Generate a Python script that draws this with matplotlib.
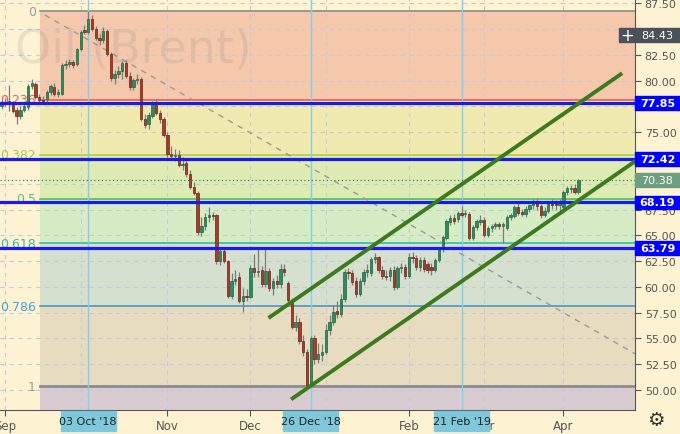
import numpy as np
import pandas as pd
import matplotlib
matplotlib.use('Agg')
from matplotlib import pyplot as plt
from matplotlib.patches import Rectangle
import matplotlib.transforms as mtransforms

# trading days of the chart (ICE Brent, closed on Christmas and New Year)
days = pd.bdate_range('2018-08-31', '2019-04-05')
days = days.drop(pd.to_datetime(['2018-12-25', '2019-01-01']))

opens = [77.5, 77.9, 77.7, 77.7, 77.2, 76.6, 77.2, 77.4, 79.5, 79.7,
         78.4, 78.1, 78.2, 78.9, 79.4, 78.7, 78.7, 81.5, 81.6, 81.8,
         81.6, 83.1, 84.95, 84.7, 86.0, 85.0, 84.1, 83.9, 84.85, 82.6,
         80.3, 80.6, 80.9, 81.7, 80.5, 79.4, 80.1, 80.2, 76.3, 75.8,
         76.6, 77.7, 76.9, 76.3, 74.7, 72.9, 72.7, 72.8, 71.8, 72.0,
         70.9, 69.7, 69.1, 65.3, 65.9, 66.8, 66.95, 67.0, 62.5, 63.5,
         62.5, 59.1, 60.6, 61.0, 58.6, 59.1, 59.0, 61.8, 61.4, 61.6,
         60.3, 61.5, 59.9, 60.6, 60.3, 61.75, 60.4, 58.7, 56.1, 56.6,
         54.8, 53.7, 50.45, 55.0, 53.0, 53.4, 53.7, 55.8, 56.6, 57.7,
         57.4, 58.85, 61.4, 61.3, 60.6, 59.3, 60.6, 61.4, 61.3, 62.7,
         62.9, 61.6, 61.1, 61.1, 61.6, 60.0, 61.8, 61.9, 61.1, 62.9,
         62.8, 61.9, 62.6, 62.2, 61.9, 61.6, 62.6, 63.7, 64.7, 66.3,
         66.7, 66.6, 67.2, 67.1, 67.1, 64.7, 65.8, 66.3, 66.5, 65.0,
         65.7, 65.9, 66.1, 65.9, 65.7, 66.8, 66.9, 67.7, 67.3, 67.1,
         67.6, 67.9, 68.2, 67.8, 67.0, 67.4, 68.05, 68.0, 67.9, 67.7,
         69.2, 69.5, 69.6, 69.2]
highs = [78.1, 78.3, 79.6, 78.0, 77.4, 77.5, 77.8, 79.7, 80.2, 79.9,
         78.7, 78.5, 79.1, 79.7, 79.8, 79.2, 81.7, 82.0, 82.1, 82.0,
         83.2, 84.9, 85.4, 86.72, 86.4, 85.3, 84.5, 85.2, 85.0, 82.8,
         81.0, 81.4, 81.9, 82.0, 80.8, 80.3, 80.6, 80.4, 76.8, 77.0,
         78.0, 78.2, 77.2, 76.5, 75.0, 73.7, 73.4, 73.3, 72.6, 72.5,
         71.3, 70.2, 69.3, 66.8, 67.2, 67.7, 67.3, 67.1, 63.9, 63.7,
         62.6, 61.3, 61.6, 61.4, 59.9, 59.8, 62.1, 63.2, 63.7, 62.0,
         63.7, 61.8, 60.9, 61.2, 62.2, 62.2, 60.6, 58.9, 57.3, 57.0,
         55.3, 54.0, 55.2, 55.3, 54.6, 54.5, 56.4, 57.3, 58.2, 58.6,
         59.3, 61.7, 61.8, 61.6, 61.0, 60.9, 61.7, 62.2, 62.9, 63.3,
         63.0, 62.0, 61.6, 61.9, 62.0, 62.0, 62.3, 62.2, 63.3, 63.4,
         63.1, 62.9, 62.9, 62.4, 62.3, 62.8, 63.9, 65.0, 66.6, 67.0,
         67.1, 67.4, 67.8, 67.5, 67.3, 66.0, 66.6, 67.0, 66.8, 65.9,
         66.1, 66.3, 66.3, 66.3, 67.0, 67.2, 67.9, 68.1, 67.6, 67.8,
         68.0, 68.5, 68.6, 68.0, 67.7, 68.3, 68.5, 68.4, 68.5, 69.4,
         69.8, 69.9, 70.0, 70.5]
lows = [77.3, 77.5, 77.1, 76.9, 75.8, 76.3, 77.0, 77.2, 79.2, 78.2,
        77.9, 77.8, 77.9, 78.6, 78.5, 78.4, 78.6, 81.1, 81.3, 81.2,
        81.4, 82.9, 84.5, 84.5, 84.8, 83.9, 83.5, 83.7, 82.4, 80.0,
        79.7, 80.3, 80.2, 80.3, 79.1, 79.1, 79.7, 76.1, 75.4, 75.3,
        76.4, 76.7, 75.9, 74.5, 72.6, 72.3, 72.2, 71.6, 71.3, 70.7,
        69.5, 68.9, 65.0, 64.9, 65.5, 66.3, 66.5, 62.2, 62.1, 62.3,
        58.9, 58.8, 60.2, 58.4, 57.6, 58.6, 58.9, 61.0, 61.0, 60.0,
        60.0, 59.6, 59.2, 59.9, 59.9, 61.1, 58.5, 55.9, 55.7, 54.5,
        53.3, 50.35, 50.35, 52.5, 52.6, 52.8, 53.5, 55.3, 56.3, 57.0,
        57.1, 58.5, 60.8, 60.2, 59.0, 59.1, 60.2, 61.0, 61.1, 62.3,
        61.3, 60.8, 60.7, 60.6, 59.7, 59.8, 61.3, 60.8, 60.9, 62.3,
        61.6, 61.5, 61.4, 61.3, 61.2, 61.4, 62.4, 63.4, 64.5, 66.0,
        66.1, 66.3, 66.8, 66.8, 64.5, 64.5, 65.5, 66.0, 64.8, 64.8,
        65.3, 65.6, 65.6, 64.3, 65.5, 66.5, 66.7, 67.0, 66.9, 66.8,
        67.3, 67.6, 67.5, 66.7, 66.8, 67.2, 67.6, 67.5, 67.4, 67.5,
        68.9, 69.1, 69.0, 69.0]
closes = [77.9, 77.7, 78.0, 77.1, 76.6, 77.2, 77.5, 79.5, 79.8, 78.4,
          78.1, 78.0, 78.9, 79.5, 78.7, 78.9, 81.5, 81.6, 81.85, 81.5,
          83.1, 84.7, 84.75, 86.0, 85.0, 84.1, 83.9, 84.85, 82.6, 80.3,
          80.6, 80.97, 81.7, 80.5, 79.4, 80.1, 80.2, 76.3, 75.7, 76.7,
          77.7, 76.9, 76.3, 74.7, 72.9, 72.7, 72.8, 71.8, 71.95, 70.9,
          69.7, 69.1, 65.3, 65.9, 66.8, 66.95, 66.9, 62.5, 63.5, 62.5,
          59.1, 60.6, 60.8, 58.6, 59.1, 59.0, 61.8, 61.4, 61.5, 60.3,
          61.5, 59.9, 60.6, 60.3, 61.75, 61.4, 58.7, 56.1, 56.6, 54.8,
          53.7, 50.45, 55.0, 53.0, 53.5, 53.7, 55.8, 56.6, 57.6, 57.4,
          58.85, 61.4, 61.3, 60.5, 59.3, 60.6, 61.4, 61.6, 62.7, 62.9,
          61.6, 61.1, 61.0, 61.6, 60.0, 61.8, 61.9, 61.1, 62.9, 62.8,
          61.9, 62.6, 61.7, 61.6, 61.6, 62.6, 63.7, 64.8, 66.4, 66.7,
          66.4, 67.2, 67.0, 67.2, 64.7, 65.8, 66.4, 66.5, 65.0, 65.7,
          65.9, 66.1, 65.9, 66.1, 66.8, 67.0, 67.7, 67.2, 67.1, 67.6,
          67.9, 68.2, 67.8, 67.0, 67.4, 68.05, 67.9, 67.9, 68.2, 69.2,
          69.6, 69.6, 69.2, 70.38]

# fibonacci retracement (Oct high -> Dec low)
fib_high = 86.72
fib_low = 50.36
fib_start = 10.2
fib_ratios = [0, 0.236, 0.382, 0.5, 0.618, 0.786, 1]
fib_names = ['0', '0.236', '0.382', '0.5', '0.618', '0.786', '1']
fib_line_colors = ['#8c8c8c', '#f05a50', '#b3cc3d', '#4cc44c', '#2fc09a', '#4a96c8', '#8c8c8c']
fib_text_colors = ['#9a9a9a', '#e85c5c', '#a6c94a', '#5ac65a', '#3cb89c', '#48a0dc', '#9a9a9a']
fib_fills = ['#f5c8ac', '#f0eab0', '#deecb4', '#d6ecc4', '#d6e0ce', '#e8dcc0', '#d8ccd2']

# support / resistance levels
levels = [77.85, 72.42, 68.19, 63.79]
last_price = 70.38
cursor_price = 84.43

# trend lines: (index, price) pairs
channel_top = [(70.8, 56.98), (164.6, 80.72)]
channel_bottom = [(76.8, 49.09), (168.5, 72.3)]
trend_dashed = [(11.5, 86.37), (168.0, 53.52)]

marked_days = ['2018-10-03', '2018-12-26', '2019-02-21']
marked_labels = ["03 Oct '18", "26 Dec '18", "21 Feb '19"]

# axis labels that sit fully under the tags
hidden_ticks = [85.0, 77.5, 72.5, 70.0]
hidden_months = ['Oct', 'Jan']

bg = '#fdf3d3'
x = np.arange(len(days))
x_right = 168.0
y_bottom, y_top = 48.09, 87.92

fig = plt.figure(figsize=(6.8, 4.35), dpi=100)
fig.patch.set_facecolor(bg)
ax = fig.add_axes([0, 24.3 / 435, 635 / 680, 410.7 / 435])
ax.set_facecolor(bg)
ax.set_xlim(-0.4, x_right)
ax.set_ylim(y_bottom, y_top)

# fib zones and lines
fib_prices = [fib_high - r * (fib_high - fib_low) for r in fib_ratios]
bounds = fib_prices + [y_bottom]
for k in range(len(fib_fills)):
    ax.fill_between([fib_start, x_right], bounds[k + 1], bounds[k],
                    color=fib_fills[k], lw=0, zorder=0.2)
for p, name, lc, tc in zip(fib_prices, fib_names, fib_line_colors, fib_text_colors):
    lw = 2 if name == '1' else 1.2
    ax.plot([fib_start, x_right], [p, p], color=lc, lw=lw, zorder=1)
    ax.text(fib_start - 1.05, p, name, ha='right', va='center', color=tc,
            fontsize=9, zorder=1)

# grid
ax.set_axisbelow(True)
ax.grid(True, linestyle=(0, (4, 4)), color='#c6c9d8', lw=0.8)

# marked date lines
marked_idx = [days.get_loc(pd.Timestamp(d)) for d in marked_days]
for i in marked_idx:
    ax.axvline(i, color='#86cde6', lw=1, zorder=1.5)

ax.plot([p[0] for p in trend_dashed], [p[1] for p in trend_dashed],
        color='#9a9a9a', lw=1, ls=(0, (4, 4)), zorder=2)

# candles
o = np.array(opens)
h = np.array(highs)
l = np.array(lows)
c = np.array(closes)
up = c >= o
ax.vlines(x, l, h, color='#7d7d7d', lw=0.9, zorder=3)
body_lo = np.minimum(o, c)
body_h = np.maximum(np.abs(c - o), 0.08)
ax.bar(x[up], body_h[up], bottom=body_lo[up], width=0.62,
       color='#2f8a5f', edgecolor='#21663f', lw=0.5, zorder=3.5)
ax.bar(x[~up], body_h[~up], bottom=body_lo[~up], width=0.62,
       color='#a63c2b', edgecolor='#6a2417', lw=0.5, zorder=3.5)

# levels and current price
for p in levels:
    ax.axhline(p, color='#1a1aee', lw=2.3, zorder=4)
ax.axhline(last_price, color='#2f8a5f', lw=0.9, ls=(0, (1, 2)), zorder=4)

for line in (channel_top, channel_bottom):
    ax.plot([p[0] for p in line], [p[1] for p in line], color='#3d7a1e',
            lw=2.8, solid_capstyle='butt', zorder=5)

ax.text(0.024, 0.849, 'Oil (Brent)', transform=ax.transAxes, fontsize=33,
        color='#8a8a8a', alpha=0.18, va='baseline', zorder=2)

# axes styling
for s in ['top', 'left']:
    ax.spines[s].set_visible(False)
ax.spines['right'].set_color('#555555')
ax.spines['bottom'].set_color('#555555')
ax.yaxis.tick_right()
yt = np.arange(50, 88, 2.5)
ax.set_yticks(yt)
ax.set_yticklabels(['' if v in hidden_ticks else '%.2f' % v for v in yt])
ax.tick_params(axis='y', colors='#555555', labelsize=8, length=4, pad=3)

month_idx = [i for i in range(1, len(days)) if days[i].month != days[i - 1].month]
month_names = [days[i].strftime('%b') for i in month_idx]
ax.set_xticks(month_idx)
ax.set_xticklabels(['' if m in hidden_months else m for m in month_names])
ax.tick_params(axis='x', colors='#555555', labelsize=8.5, length=4, pad=3)

# price tags on the right axis
tr_y = mtransforms.blended_transform_factory(ax.transAxes, ax.transData)
tag_w = 45 / 635
tag_h = 1.3
for p in levels:
    ax.add_patch(Rectangle((1.0, p - tag_h / 2), tag_w, tag_h, transform=tr_y,
                           color='#0000ff', clip_on=False, zorder=10))
    ax.text(1.0 + tag_w / 2, p, '%.2f' % p, transform=tr_y, ha='center',
            va='center', color='white', fontsize=8, fontweight='bold',
            clip_on=False, zorder=11)
ax.add_patch(Rectangle((1.0, last_price - tag_h / 2), tag_w, tag_h, transform=tr_y,
                       color='#6f9e84', clip_on=False, zorder=10))
ax.text(1.0 + tag_w / 2, last_price, '%.2f' % last_price, transform=tr_y,
        ha='center', va='center', color='white', fontsize=8, clip_on=False, zorder=11)
ax.add_patch(Rectangle((619 / 635, cursor_price - tag_h / 2), 1.0 + tag_w - 619 / 635,
                       tag_h, transform=tr_y, color='#4b5159', clip_on=False, zorder=10))
ax.text(1.0 + tag_w / 2, cursor_price, '%.2f' % cursor_price, transform=tr_y,
        ha='center', va='center', color='white', fontsize=8, clip_on=False, zorder=11)
ax.text(627 / 635, cursor_price, '+', transform=tr_y, ha='center', va='center',
        color='white', fontsize=12, clip_on=False, zorder=11)

# date tags on the bottom axis
tr_x = mtransforms.blended_transform_factory(ax.transData, ax.transAxes)
for i, lab in zip(marked_idx, marked_labels):
    ax.add_patch(Rectangle((i - 7.3, -21.5 / 410.7), 14.6, 20.5 / 410.7,
                           transform=tr_x, color='#7ec8dc', clip_on=False, zorder=10))
    ax.text(i, -11.5 / 410.7, lab, transform=tr_x, ha='center', va='center',
            color='#222222', fontsize=8, clip_on=False, zorder=11)

fig.text(656 / 680, 1 - 421 / 435, '\u2699', ha='center', va='center',
         fontsize=14, color='#333333')

fig.savefig('out.png', dpi=100, facecolor=bg)
